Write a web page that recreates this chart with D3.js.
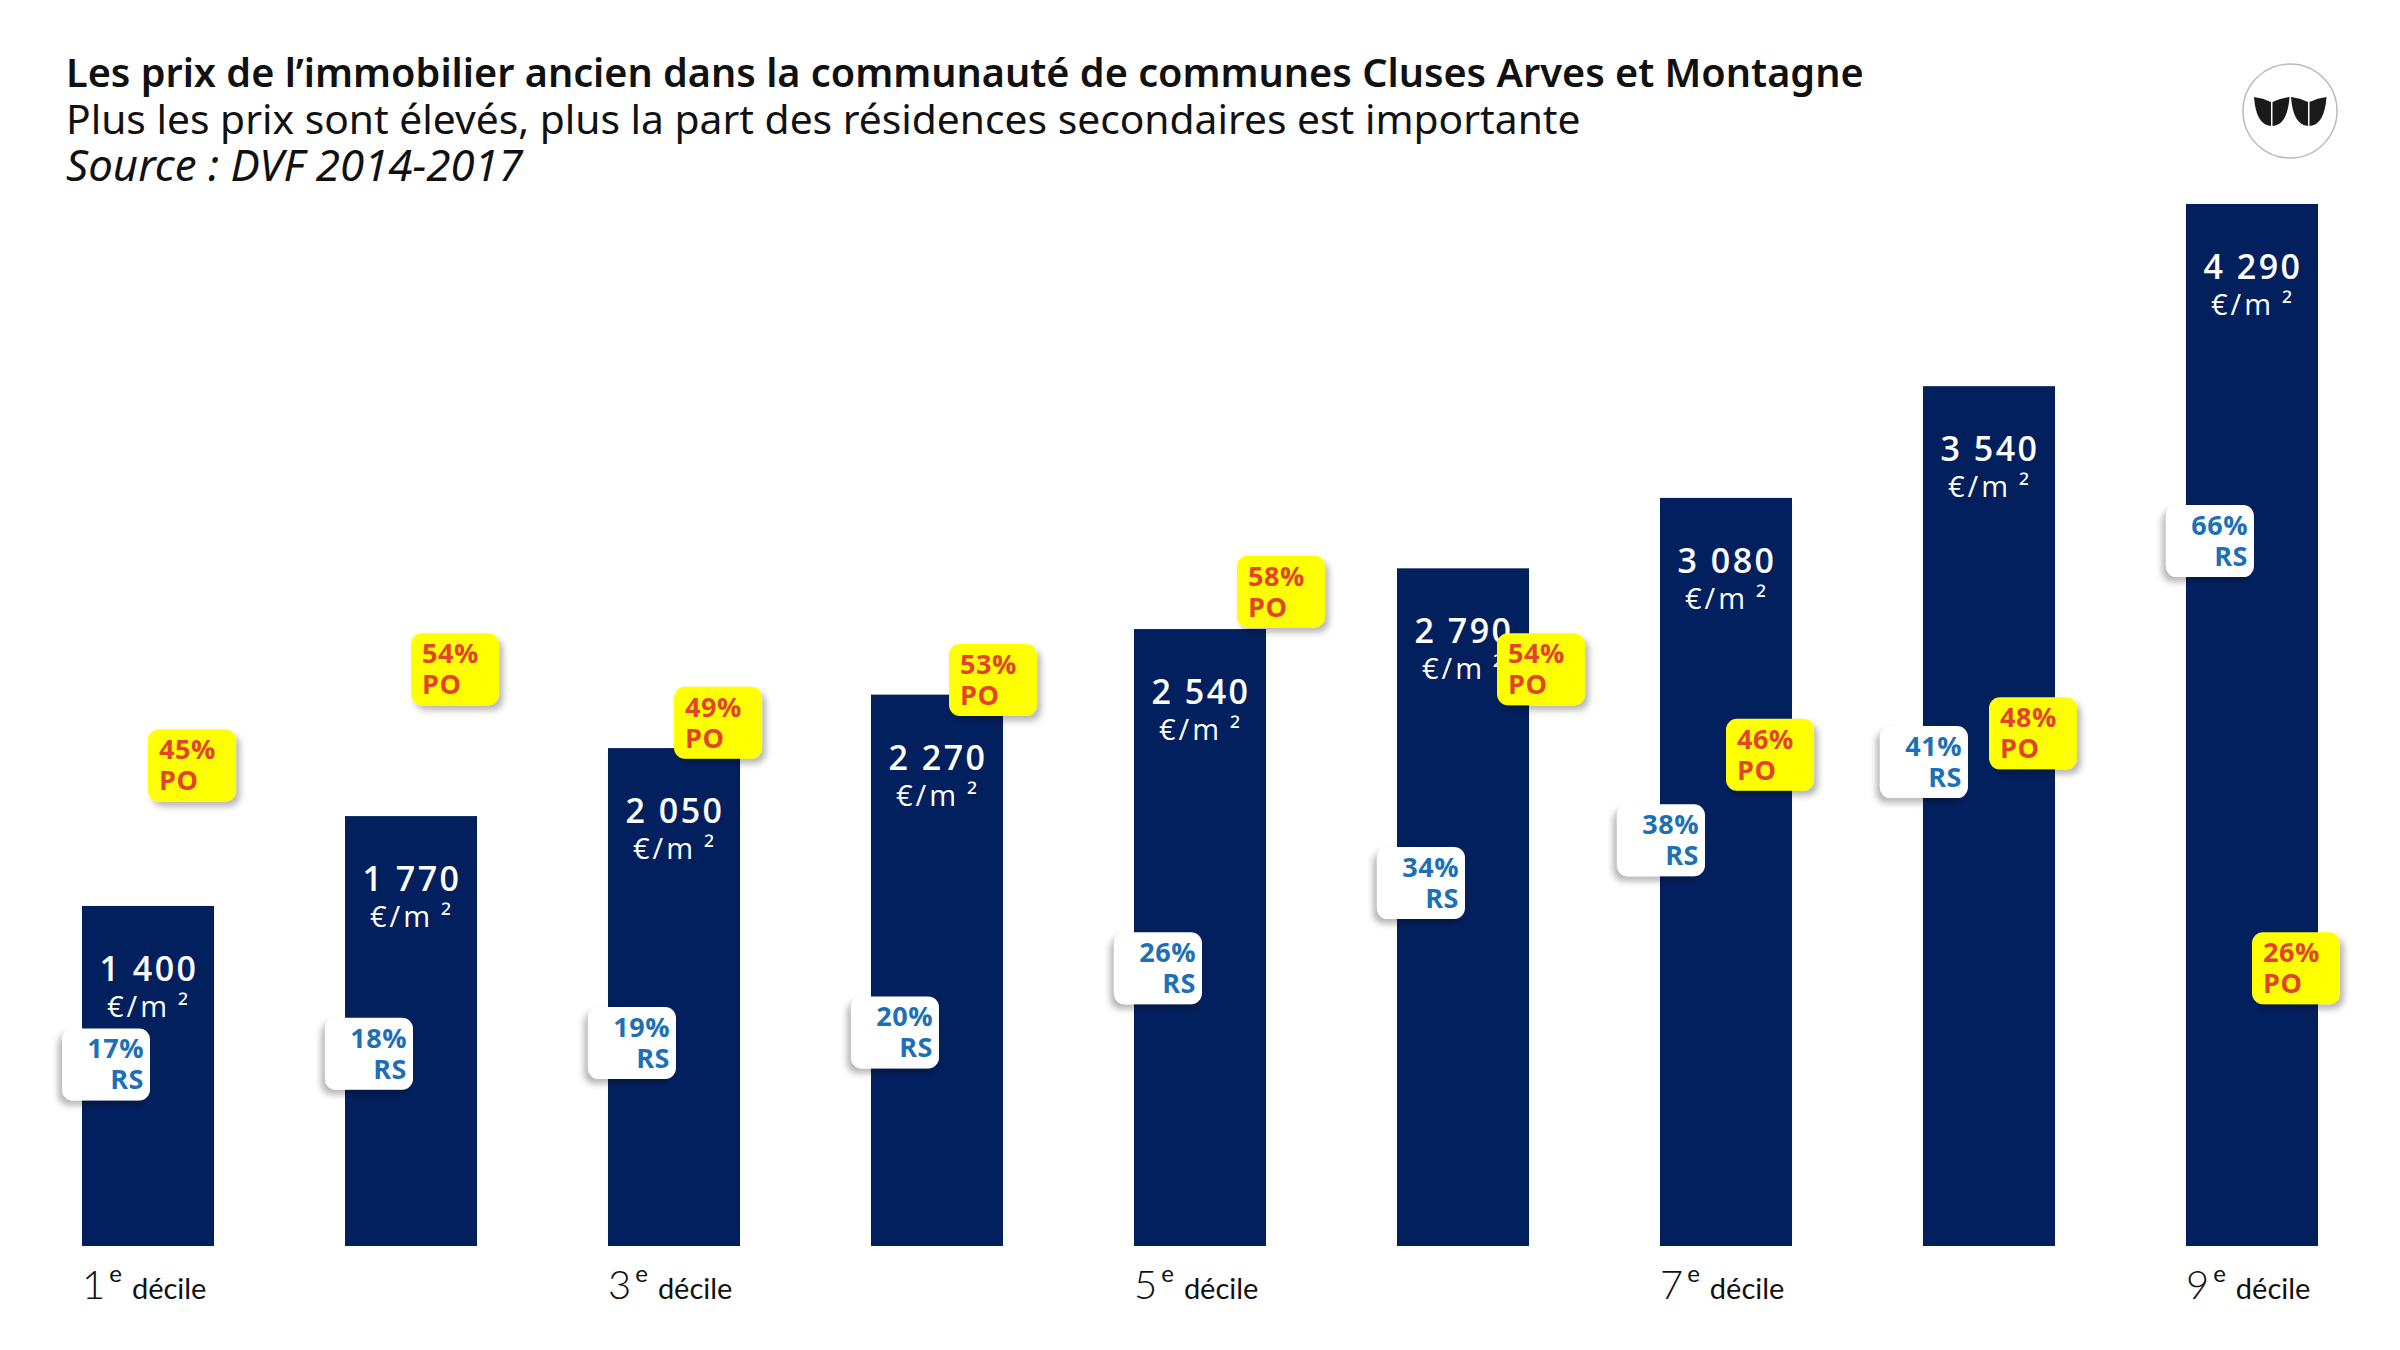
<!DOCTYPE html>
<html>
<head>
<meta charset="utf-8">
<script src="https://cdn.jsdelivr.net/npm/d3@7"></script>
<style>
	body { margin: 0; background: #fff; }
	svg { display: block; }
</style>
</head>
<body>
<div id="chart"></div>
<script>
// chart data
const deciles = ["1", "2", "3", "4", "5", "6", "7", "8", "9"]
const prices = [1400, 1770, 2050, 2270, 2540, 2790, 3080, 3540, 4290]
const rsShare = [17, 18, 19, 20, 26, 34, 38, 41, 66]
const poShare = [45, 54, 49, 53, 58, 54, 46, 48, 26]
const axisDeciles = ["1", "3", "5", "7", "9"]

const title = "Les prix de l\u2019immobilier ancien dans la communauté de communes Cluses Arves et Montagne"
const subtitle = "Plus les prix sont élevés, plus la part des résidences secondaires est importante"
const source = "Source : DVF 2014-2017"

// small manual label nudges (px) where the original moved callouts off the scale
const poNudge = [[0, 0], [0, 0], [0, 0], [12, 0], [37, -35], [34, 0], [0, 0], [0, 0], [0, 0]]
const rsNudge = [[0, 0], [0, 0], [0, 0], [0, 0], [0, 0], [0, 0], [-23, 0], [-23, -46], [0, 0]]

const W = 2400, H = 1350
const navy = "#03205e"
const blue = "#1d6fb6"
const red = "#e2432b"

const svg = d3.select("#chart").append("svg")
	.attr("width", W)
	.attr("height", H)

const defs = svg.append("defs")
const shadow = (id, dx) => {
	defs.append("filter")
		.attr("id", id)
		.attr("x", "-40%").attr("y", "-40%")
		.attr("width", "180%").attr("height", "190%")
		.append("feDropShadow")
		.attr("dx", dx).attr("dy", 5)
		.attr("stdDeviation", 3)
		.attr("flood-color", "#000")
		.attr("flood-opacity", 0.28)
}
shadow("shadow-left", -4)
shadow("shadow-right", 4)

svg.append("rect").attr("width", W).attr("height", H).attr("fill", "#fff")

// fit a text element to a target width by adjusting its font-size
function fitWidth(sel, target) {
	const fs = parseFloat(sel.attr("font-size"))
	const len = sel.node().getComputedTextLength()
	if (len > 0) sel.attr("font-size", fs * target / len)
}

// titles
const titleT = svg.append("text")
	.attr("x", 66).attr("y", 87)
	.attr("font-family", "'Noto Sans', sans-serif")
	.attr("font-weight", 600)
	.attr("font-size", 34)
	.attr("fill", "#111")
	.text(title)
fitWidth(titleT, 1798)

const subT = svg.append("text")
	.attr("x", 66).attr("y", 134)
	.attr("font-family", "'Noto Sans', sans-serif")
	.attr("font-size", 34)
	.attr("fill", "#111")
	.text(subtitle)
fitWidth(subT, 1515)

const srcT = svg.append("text")
	.attr("x", 66).attr("y", 181)
	.attr("font-family", "'Noto Sans', sans-serif")
	.attr("font-style", "italic")
	.attr("font-size", 34)
	.attr("fill", "#111")
	.text(source)
fitWidth(srcT, 457)

// logo
const logo = svg.append("g").attr("transform", "translate(2290,111)")
logo.append("circle").attr("r", 47).attr("fill", "#fff")
	.attr("stroke", "#bbb").attr("stroke-width", 1.5)
const leafW = 17
;[-36, 1].forEach((x0) => {
	// left leaf of the pair
	logo.append("path")
		.attr("d", `M${x0},-14 Q${x0 + 2},14 ${x0 + leafW},15 L${x0 + leafW},-9 Q${x0 + 9},-13 ${x0},-14 Z`)
		.attr("fill", "#1a1a1a")
	// right leaf of the pair
	const x1 = x0 + leafW + 1.5
	logo.append("path")
		.attr("d", `M${x1 + leafW},-14 Q${x1 + leafW - 2},14 ${x1},15 L${x1},-9 Q${x1 + 8},-13 ${x1 + leafW},-14 Z`)
		.attr("fill", "#1a1a1a")
})

// scales
const x = d3.scaleBand()
	.domain(deciles)
	.range([82, 2318])
	.paddingInner(0.498)
	.paddingOuter(0)

const y = d3.scaleLinear()
	.domain([0, 4290])
	.range([1246, 204])

const pct = d3.scaleLinear()
	.domain([0, 100])
	.range([1246, 178])

const fr = d3.formatLocale({ decimal: ",", thousands: "\u00a0", grouping: [3], currency: ["", "\u00a0€"] })
const fmt = fr.format(",")

const rows = deciles.map((d, i) => ({
	decile: d, price: prices[i], rs: rsShare[i], po: poShare[i],
	poN: poNudge[i], rsN: rsNudge[i]
}))

// bars
svg.append("g").selectAll("rect")
	.data(rows)
	.join("rect")
	.attr("x", (d) => x(d.decile))
	.attr("y", (d) => y(d.price))
	.attr("width", x.bandwidth())
	.attr("height", (d) => y(0) - y(d.price))
	.attr("fill", navy)

// value labels inside bars
const vals = svg.append("g")
	.attr("font-family", "'Open Sans', sans-serif")
	.attr("fill", "#fff")
	.attr("text-anchor", "middle")
vals.selectAll("text.price")
	.data(rows)
	.join("text")
	.attr("class", "price")
	.attr("x", (d) => x(d.decile) + x.bandwidth() / 2 + 1)
	.attr("y", (d) => y(d.price) + 75)
	.attr("font-size", 34)
	.attr("font-weight", 600)
	.attr("letter-spacing", 2.5)
	.text((d) => fmt(d.price))
vals.selectAll("text.unit")
	.data(rows)
	.join("text")
	.attr("class", "unit")
	.attr("x", (d) => x(d.decile) + x.bandwidth() / 2 + 1)
	.attr("y", (d) => y(d.price) + 111)
	.attr("font-size", 29)
	.attr("letter-spacing", 3)
	.text("€/m\u2009²")

// callouts
const boxW = 88, boxH = 72

const rs = svg.append("g").selectAll("g")
	.data(rows)
	.join("g")
	.attr("transform", (d) => `translate(${x(d.decile) - 20 + d.rsN[0]},${pct(d.rs) - boxH / 2 + d.rsN[1]})`)
rs.append("rect")
	.attr("width", boxW).attr("height", boxH)
	.attr("rx", 11)
	.attr("fill", "#fff")
	.attr("filter", "url(#shadow-left)")
rs.append("text")
	.attr("x", boxW - 6).attr("y", 30)
	.text((d) => d.rs + "%")
rs.append("text")
	.attr("x", boxW - 6).attr("y", 61)
	.text("RS")
rs.selectAll("text")
	.attr("text-anchor", "end")
	.attr("font-family", "'Open Sans', sans-serif")
	.attr("font-weight", 700)
	.attr("font-size", 27)
	.attr("letter-spacing", 0.5)
	.attr("fill", blue)

const po = svg.append("g").selectAll("g")
	.data(rows)
	.join("g")
	.attr("transform", (d) => `translate(${x(d.decile) + x.bandwidth() - 66 + d.poN[0]},${pct(d.po) - boxH / 2 + d.poN[1]})`)
po.append("rect")
	.attr("width", boxW).attr("height", boxH)
	.attr("rx", 11)
	.attr("fill", "#ffff00")
	.attr("filter", "url(#shadow-right)")
po.append("text")
	.attr("x", 11).attr("y", 30)
	.text((d) => d.po + "%")
po.append("text")
	.attr("x", 11).attr("y", 61)
	.text("PO")
po.selectAll("text")
	.attr("font-family", "'Open Sans', sans-serif")
	.attr("font-weight", 700)
	.attr("font-size", 27)
	.attr("letter-spacing", 0.5)
	.attr("fill", red)

// x axis labels
const xl = svg.append("g").selectAll("text")
	.data(axisDeciles)
	.join("text")
	.attr("x", (d) => x(d))
	.attr("y", 1299)
	.attr("font-family", "Lato, sans-serif")
	.attr("fill", "#111")
xl.append("tspan").attr("font-size", 40).attr("font-weight", 300).text((d) => d)
xl.append("tspan").attr("font-size", 24).attr("dx", 4).attr("dy", -17).text("e")
xl.append("tspan").attr("font-size", 29).attr("dx", 10).attr("dy", 17).text("décile")
</script>
</body>
</html>
